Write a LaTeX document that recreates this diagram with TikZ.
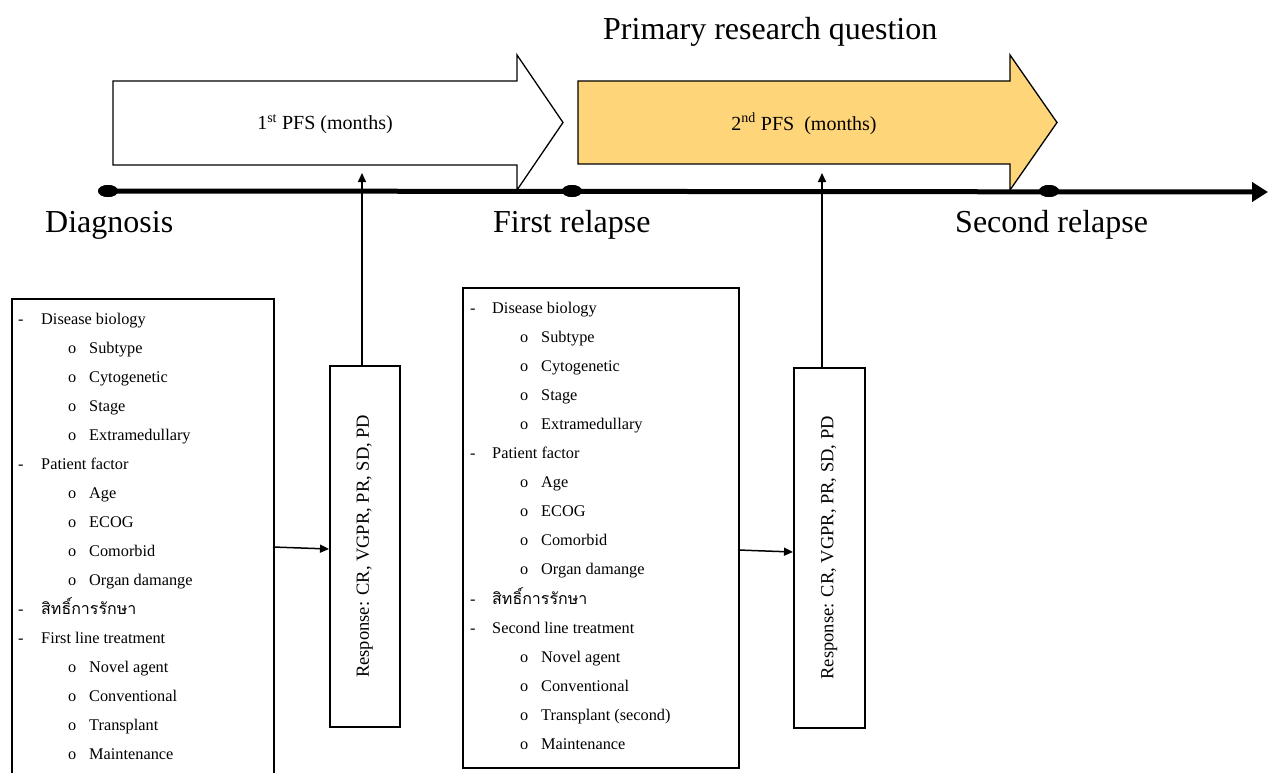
\documentclass[tikz,border=0pt]{standalone}
\usepackage{fontspec}
\setmainfont{Liberation Serif}
\newfontfamily\thaifont[Script=Thai]{Loma}
\usetikzlibrary{arrows.meta,shapes.geometric}
\definecolor{pfsgold}{RGB}{255,213,122}
\begin{document}
\begin{tikzpicture}[x=1pt,y=-1pt,
  item/.style={font=\fontsize{16.3}{19}\selectfont, anchor=mid west, inner sep=0pt},
  resp/.style={font=\fontsize{18.5}{22}\selectfont, anchor=center, inner sep=0pt, rotate=90},
  thai/.style={font=\thaifont\fontsize{16}{19}\selectfont, anchor=mid west, inner sep=0pt},
  big/.style={font=\fontsize{32}{38}\selectfont, anchor=base west, inner sep=0pt},
  pfs/.style={font=\fontsize{20}{24}\selectfont, anchor=center, inner sep=0pt},
  frame/.style={draw, line width=1.6pt, anchor=north west, inner sep=0pt},
  dot/.style={shape=ellipse, fill, minimum width=20pt, minimum height=12pt, inner sep=0pt},
  conn/.style={line width=1.5pt, -{Triangle[length=9pt,width=8pt]}},
  bigarrow/.style={draw, line width=1.3pt, line join=miter}]
\useasboundingbox (0,0) rectangle (1269,773);
\clip (0,0) rectangle (1269,773);

% PFS arrows
\draw[bigarrow, fill=white] (113,81) -- (517,81) -- (517,55) -- (563,122.5) -- (517,190) -- (517,165) -- (113,165) -- cycle;
\draw[bigarrow, fill=pfsgold] (578,81) -- (1010,81) -- (1010,55) -- (1057,122.5) -- (1010,190) -- (1010,164) -- (578,164) -- cycle;
\node[pfs] (pfs1) at (325,124) {1\textsuperscript{st} PFS (months)};
\node[pfs] (pfs2) at (804,124) {2\textsuperscript{nd} PFS\ \ (months)};
\node[big] (prq) at (603,40) {Primary research question};

% timeline
\node[dot] (d0) at (108,191) {};
\node[dot] (d1) at (572,191) {};
\node[dot] (d2) at (1049,191) {};
\coordinate (tend) at (1268,192);
\draw[line width=5pt, -{Triangle[length=16pt,width=19pt]}] (d0.center) -- (tend);
\node[dot] at (d0) {};
\node[dot] at (d1) {};
\node[dot] at (d2) {};

\node[big] (lab0) at (45,232) {Diagnosis};
\node[big] (lab1) at (493,232) {First relapse};
\node[big] (lab2) at (955,232) {Second relapse};

% factor boxes
\node[frame, minimum width=262pt, minimum height=500pt] (b1) at (11,298) {};
\node[frame, minimum width=276pt, minimum height=480pt] (b2) at (462,287) {};

% response boxes
\node[frame, minimum width=70pt, minimum height=361pt] (r1) at (329,365) {};
\node[frame, minimum width=71pt, minimum height=360pt] (r2) at (793,367) {};
\node[resp] (rt1) at (r1.center) {Response: CR, VGPR, PR, SD, PD};
\node[resp] (rt2) at (r2.center) {Response: CR, VGPR, PR, SD, PD};

% box 1 items
\foreach \i/\t in {0/Disease biology,5/Patient factor,11/First line treatment} {
  \node[item] (ad\i) at (18,{322+29*\i}) {-};
  \node[item] (at\i) at (41,{322+29*\i}) {\t};
}
\node[item] (ad10) at (18,612) {-};
\node[thai] (at10) at (41,612) {สิทธิ์การรักษา};
\foreach \i/\t in {1/Subtype,2/Cytogenetic,3/Stage,4/Extramedullary,6/Age,7/ECOG,8/Comorbid,9/Organ damange,12/Novel agent,13/Conventional,14/Transplant,15/Maintenance} {
  \node[item] (ao\i) at (68,{322+29*\i}) {o};
  \node[item] (as\i) at (89,{322+29*\i}) {\t};
}

% box 2 items
\foreach \i/\t in {0/Disease biology,5/Patient factor,11/Second line treatment} {
  \node[item] (bd\i) at (470,{311+29.07*\i}) {-};
  \node[item] (bt\i) at (492,{311+29.07*\i}) {\t};
}
\node[item] (bd10) at (470,601.7) {-};
\node[thai] (bt10) at (492,601.7) {สิทธิ์การรักษา};
\foreach \i/\t in {1/Subtype,2/Cytogenetic,3/Stage,4/Extramedullary,6/Age,7/ECOG,8/Comorbid,9/Organ damange,12/Novel agent,13/Conventional,14/Transplant (second),15/Maintenance} {
  \node[item] (bo\i) at (520,{311+29.07*\i}) {o};
  \node[item] (bs\i) at (541,{311+29.07*\i}) {\t};
}

% connectors
\coordinate (up1) at (362,173);
\coordinate (up2) at (822,173);
\draw[conn] (r1.north -| up1) -- (up1);
\draw[conn] (r2.north -| up2) -- (up2);
\coordinate (h1s) at (273,547);
\coordinate (h1e) at (329,549);
\coordinate (h2s) at (738,550);
\coordinate (h2e) at (793,552);
\draw[conn] (h1s) -- (h1e);
\draw[conn] (h2s) -- (h2e);
\end{tikzpicture}
\end{document}
